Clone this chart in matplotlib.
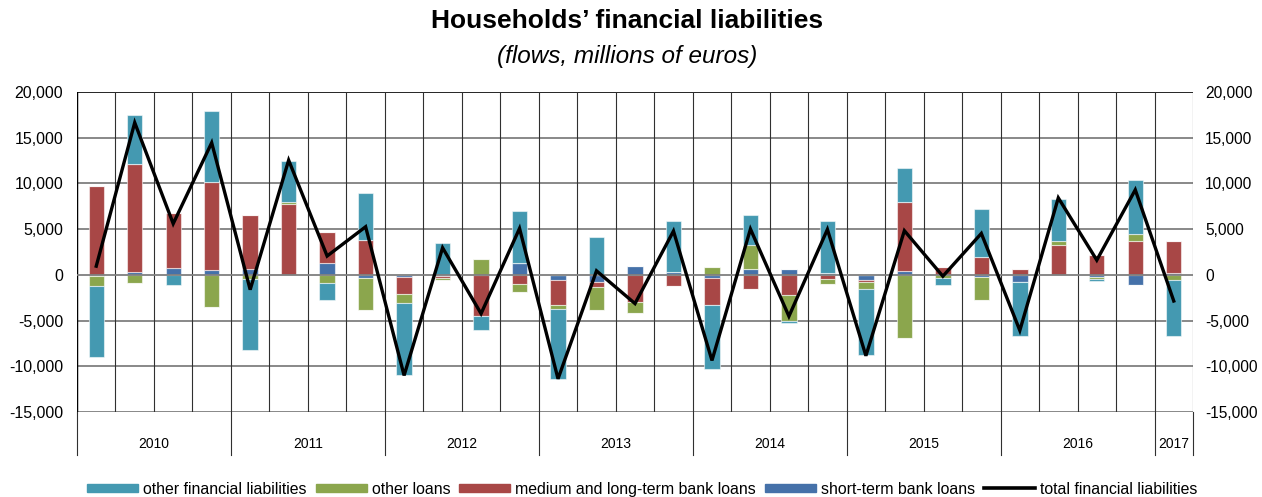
import matplotlib
matplotlib.use("Agg")
import matplotlib.pyplot as plt
import matplotlib.transforms as mtransforms
from matplotlib.patches import Rectangle
from matplotlib.lines import Line2D
import numpy as np

plt.rcParams['font.family'] = ['Liberation Sans', 'DejaVu Sans']

quarters = ["2010Q1", "2010Q2", "2010Q3", "2010Q4",
            "2011Q1", "2011Q2", "2011Q3", "2011Q4",
            "2012Q1", "2012Q2", "2012Q3", "2012Q4",
            "2013Q1", "2013Q2", "2013Q3", "2013Q4",
            "2014Q1", "2014Q2", "2014Q3", "2014Q4",
            "2015Q1", "2015Q2", "2015Q3", "2015Q4",
            "2016Q1", "2016Q2", "2016Q3", "2016Q4",
            "2017Q1"]
years = ["2010", "2011", "2012", "2013", "2014", "2015", "2016", "2017"]

short_term = [-100, 330, 770, 550, 660, 0, 1290, -370,
              -180, -100, 0, 1280, -580, -800, 950, 300,
              -290, 660, 690, 220, -510, 440, 0, -200,
              -810, 0, -200, -1100, 180]
medium_long = [9700, 11840, 5960, 9560, 5880, 7790, 3380, 3820,
               -1860, -200, -4530, -1020, -2710, -550, -2960, -1240,
               -2960, -1540, -2160, -480, -290, 7530, 880, 1970,
               590, 3260, 2160, 3700, 3480]
other_loans = [-1100, -850, 0, -3570, -440, 180, -850, -3490,
               -1020, -250, 1680, -880, -400, -2450, -1170, 0,
               880, 2630, -2890, -550, -730, -6870, -330, -2500,
               0, 480, -260, 730, -510]
other_fin = [-7800, 5290, -1070, 7760, -7760, 4490, -1880, 5180,
             -7930, 3510, -1540, 5700, -7680, 4170, -50, 5620,
             -7060, 3220, -220, 5670, -7200, 3690, -730, 5200,
             -5930, 4610, -220, 5970, -6150]
total = [950, 16650, 5600, 14450, -1620, 12540, 2060, 5260,
         -11000, 2960, -4240, 5080, -11370, 440, -3140, 4790,
         -9360, 5010, -4530, 4970, -8850, 4830, -150, 4530,
         -6080, 8420, 1610, 9300, -2860]
y_ticks = [-15000, -10000, -5000, 0, 5000, 10000, 15000, 20000]

C_SHORT, C_MED, C_OLOAN, C_OFIN = "#4571A9", "#A84746", "#8BA64D", "#4499B1"
series = [("short-term bank loans", short_term, C_SHORT),
          ("medium and long-term bank loans", medium_long, C_MED),
          ("other loans", other_loans, C_OLOAN),
          ("other financial liabilities", other_fin, C_OFIN)]

W, H = 1262, 497
fig = plt.figure(figsize=(W/100, H/100), dpi=100)
ax = fig.add_axes([77/W, 1-412/H, (1193-77)/W, 320/H])

n = len(quarters)
x = np.arange(n)
pos_base = np.zeros(n)
neg_base = np.zeros(n)
for name, vals, col in series:
    v = np.array(vals, dtype=float)
    pos = np.where(v > 0, v, 0)
    neg = np.where(v < 0, v, 0)
    ax.bar(x, pos, bottom=pos_base, width=0.4, color=col,
           edgecolor=(1, 1, 1, 0.55), linewidth=0.8, zorder=3)
    ax.bar(x, neg, bottom=neg_base, width=0.4, color=col,
           edgecolor=(1, 1, 1, 0.55), linewidth=0.8, zorder=3)
    pos_base += pos
    neg_base += neg

ax.plot(x, total, color="black", lw=2.4, zorder=5, solid_joinstyle='miter')

ax.set_xlim(-0.5, n - 0.5)
ax.set_ylim(-15000, 20000)
ax.set_yticks(y_ticks)
ax.set_yticklabels([f"{t:,}" for t in y_ticks], fontsize=11.5)
ax.tick_params(axis='y', length=0, pad=10, labelright=False, right=False)
ax.tick_params(axis='x', length=0, labelbottom=False)

# right-hand tick labels
rtrans = mtransforms.offset_copy(
    mtransforms.blended_transform_factory(ax.transAxes, ax.transData),
    fig=fig, x=12, y=0, units='dots')
for t in y_ticks:
    ax.text(1, t, f"{t:,}", transform=rtrans, ha="left", va="center_baseline",
            fontsize=11.2, clip_on=False)

for sp in ax.spines.values():
    sp.set_visible(False)

for yv in y_ticks:
    if yv == 20000:
        ax.axhline(yv, color="black", lw=1.2, zorder=1)
    else:
        ax.axhline(yv, color="#7f7f7f", lw=1.3, zorder=1 if yv != 0 else 4)
for b in np.arange(-0.5, n, 1.0):
    ax.axvline(b, color="#303030", lw=0.8, zorder=1)
ax.axvline(-0.5, color="black", lw=1.0, zorder=1)

trans = mtransforms.blended_transform_factory(ax.transData, ax.transAxes)
bounds = [-0.5, 3.5, 7.5, 11.5, 15.5, 19.5, 23.5, 27.5, 28.5]
for b in bounds:
    ax.plot([b, b], [0, -0.133], color="#303030", lw=0.8, transform=trans,
            clip_on=False)
for i, yr in enumerate(years):
    ax.text((bounds[i] + bounds[i + 1]) / 2, -0.1, yr, transform=trans,
            ha="center", va="center", fontsize=10)

fig.text(627/W, 1-21/H, "Households\u2019 financial liabilities",
         ha="center", va="center", fontsize=19, fontweight="bold")
fig.text(627/W, 1-57/H, "(flows, millions of euros)",
         ha="center", va="center", fontsize=17.5, style="italic")

# manual legend (figure pixel coordinates)
legend_items = [("patch", C_OFIN, "other financial liabilities"),
                ("patch", C_OLOAN, "other loans"),
                ("patch", C_MED, "medium and long-term bank loans"),
                ("patch", C_SHORT, "short-term bank loans"),
                ("line", "black", "total financial liabilities")]
renderer = fig.canvas.get_renderer()
px = fig.transFigure.inverted()
ly = 488
cx = 87
for kind, col, lab in legend_items:
    if kind == "patch":
        fig.patches.append(Rectangle((cx/W, 1-(ly+4)/H), 51/W, 8/H,
                                     transform=fig.transFigure, color=col))
    else:
        fig.lines.append(Line2D([cx/W, (cx+51)/W], [1-ly/H, 1-ly/H],
                                transform=fig.transFigure, color=col, lw=2.6))
    t = fig.text((cx+56)/W, 1-ly/H, lab, ha="left", va="center_baseline",
                 fontsize=11.4)
    bb = t.get_window_extent(renderer=renderer)
    cx = bb.x1 + 9

fig.savefig("out.png", dpi=100)
